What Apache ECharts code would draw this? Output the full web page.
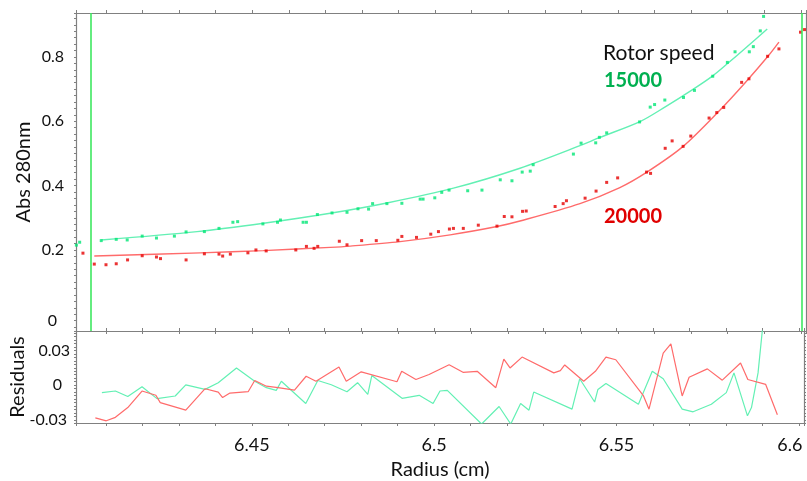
<!DOCTYPE html>
<html>
<head>
<meta charset="utf-8">
<script src="https://cdn.jsdelivr.net/npm/echarts@6/dist/echarts.min.js"></script>
<style>
  html, body { margin: 0; padding: 0; background: #fff; }
  #chart { width: 807px; height: 481px; }
</style>
</head>
<body>
<div id="chart"></div>
<script>
// Absorbance scans at 280 nm for two rotor speeds, with fitted curves and residuals.

const radiusGreen = [6.4019, 6.4028, 6.4087, 6.4128, 6.4158, 6.4199, 6.4238, 6.4287, 6.4319, 6.4369,
  6.4409, 6.4447, 6.4460, 6.4529, 6.4569, 6.4577, 6.4639, 6.4648, 6.4678, 6.4718,
  6.4759, 6.4789, 6.4818, 6.4829, 6.4868, 6.4909, 6.4959, 6.4967, 6.4999, 6.5018,
  6.5038, 6.5089, 6.5128, 6.5178, 6.5210, 6.5238, 6.5260, 6.5268, 6.5378, 6.5399,
  6.5439, 6.5449, 6.5469, 6.5559, 6.5588, 6.5600, 6.5628, 6.5679, 6.5709, 6.5759,
  6.5799, 6.5820, 6.5859, 6.5870, 6.5889, 6.5898];
const absGreen = [0.215, 0.224, 0.229, 0.233, 0.231, 0.243, 0.237, 0.243, 0.256, 0.257,
  0.267, 0.286, 0.288, 0.281, 0.286, 0.293, 0.286, 0.286, 0.310, 0.315,
  0.317, 0.328, 0.327, 0.344, 0.344, 0.345, 0.358, 0.358, 0.362, 0.379,
  0.386, 0.384, 0.386, 0.418, 0.415, 0.442, 0.445, 0.465, 0.498, 0.532,
  0.533, 0.550, 0.564, 0.598, 0.644, 0.652, 0.666, 0.674, 0.696, 0.740,
  0.783, 0.816, 0.816, 0.832, 0.881, 0.926];

const radiusRed = [6.4037, 6.4068, 6.4100, 6.4128, 6.4159, 6.4199, 6.4238, 6.4249, 6.4319, 6.4369,
  6.4409, 6.4419, 6.4440, 6.4488, 6.4510, 6.4538, 6.4619, 6.4648, 6.4669, 6.4679,
  6.4738, 6.4759, 6.4799, 6.4839, 6.4898, 6.4909, 6.4949, 6.4988, 6.5009, 6.5039,
  6.5050, 6.5077, 6.5118, 6.5169, 6.5189, 6.5210, 6.5239, 6.5249, 6.5328, 6.5350,
  6.5359, 6.5410, 6.5440, 6.5469, 6.5499, 6.5578, 6.5589, 6.5629, 6.5648, 6.5678,
  6.5699, 6.5749, 6.5770, 6.5789, 6.5838, 6.5858, 6.5909, 6.5940, 6.5999, 6.6010];
const absRed = [0.190, 0.156, 0.154, 0.157, 0.169, 0.182, 0.178, 0.173, 0.169, 0.188,
  0.187, 0.181, 0.187, 0.191, 0.200, 0.197, 0.200, 0.211, 0.205, 0.211,
  0.227, 0.216, 0.229, 0.229, 0.230, 0.242, 0.239, 0.249, 0.257, 0.265,
  0.267, 0.267, 0.277, 0.274, 0.304, 0.303, 0.320, 0.321, 0.335, 0.344,
  0.353, 0.361, 0.383, 0.410, 0.424, 0.442, 0.438, 0.516, 0.539, 0.522,
  0.554, 0.610, 0.627, 0.643, 0.721, 0.732, 0.802, 0.825, 0.877, 0.885];

const fitRadiusGreen = [6.4087, 6.4349, 6.4531, 6.4713, 6.4868, 6.5050, 6.5232, 6.5396,
  6.5449, 6.5560, 6.5628, 6.5706, 6.5760, 6.5797, 6.5852, 6.5908];
const fitAbsGreen = [0.231, 0.257, 0.283, 0.314, 0.346, 0.392, 0.454, 0.524,
  0.549, 0.599, 0.644, 0.700, 0.742, 0.777, 0.831, 0.887];

const fitRadiusRed = [6.4068, 6.4358, 6.4530, 6.4713, 6.4768, 6.4904, 6.5041, 6.5169, 6.5232,
  6.5396, 6.5505, 6.5579, 6.5678, 6.5779, 6.5847, 6.5910, 6.5940];
const fitAbsRed = [0.181, 0.191, 0.198, 0.208, 0.212, 0.226, 0.247, 0.273, 0.290,
  0.344, 0.394, 0.442, 0.522, 0.635, 0.719, 0.802, 0.846];

const residRadiusGreen = [6.4089, 6.4126, 6.4160, 6.4199, 6.4240, 6.4290, 6.4319, 6.4372, 6.4408, 6.4458,
  6.4508, 6.4540, 6.4567, 6.4581, 6.4648, 6.4681, 6.4718, 6.4761, 6.4790, 6.4818,
  6.4829, 6.4912, 6.4959, 6.4997, 6.5016, 6.5036, 6.5130, 6.5178, 6.5210, 6.5237,
  6.5260, 6.5273, 6.5378, 6.5399, 6.5440, 6.5449, 6.5471, 6.5560, 6.5598, 6.5628,
  6.5680, 6.5710, 6.5760, 6.5801, 6.5822, 6.5859, 6.5870, 6.5888, 6.5904];
const residGreen = [-0.0065, -0.0051, -0.0099, -0.0014, -0.0117, -0.0094, 0.0003, -0.0037, 0.0021, 0.0149,
  0.0034, -0.0022, -0.0045, 0.0034, -0.0159, 0.0040, 0.0003, -0.0057, 0.0021, -0.0080,
  0.0083, -0.0114, -0.0088, -0.0159, -0.0051, -0.0045, -0.0337, -0.0185, -0.0337, -0.0159,
  -0.0217, -0.0060, -0.0208, 0.0055, -0.0146, -0.0037, 0.0015, -0.0165, 0.0120, 0.0055,
  -0.0208, -0.0231, -0.0165, -0.0065, 0.0106, -0.0266, -0.0194, 0.0106, 0.0606];

const residRadiusRed = [6.4071, 6.4101, 6.4126, 6.4160, 6.4199, 6.4237, 6.4249, 6.4319, 6.4372, 6.4408,
  6.4420, 6.4440, 6.4490, 6.4508, 6.4540, 6.4572, 6.4617, 6.4649, 6.4676, 6.4739,
  6.4759, 6.4800, 6.4898, 6.4911, 6.4950, 6.4986, 6.5041, 6.5079, 6.5118, 6.5169,
  6.5191, 6.5208, 6.5241, 6.5328, 6.5346, 6.5358, 6.5410, 6.5442, 6.5471, 6.5498,
  6.5574, 6.5589, 6.5628, 6.5649, 6.5680, 6.5699, 6.5749, 6.5790, 6.5840, 6.5860,
  6.5909, 6.5941];
const residRed = [-0.0283, -0.0309, -0.0279, -0.0194, -0.0051, -0.0088, -0.0151, -0.0217, -0.0031, -0.0060,
  -0.0108, -0.0069, -0.0057, 0.0040, -0.0009, -0.0022, -0.0043, 0.0077, 0.0034, 0.0158,
  0.0034, 0.0115, 0.0029, 0.0120, 0.0049, 0.0092, 0.0177, 0.0111, 0.0120, -0.0022,
  0.0226, 0.0149, 0.0243, 0.0106, 0.0126, 0.0175, 0.0034, 0.0120, 0.0243, 0.0220,
  -0.0094, -0.0208, 0.0278, 0.0357, -0.0094, 0.0069, 0.0141, 0.0043, 0.0192, 0.0049,
  0.0006, -0.0257];

// meniscus and cell-bottom positions (cm)
const boundaryRadius = [6.4057, 6.6002];

const radiusTickLabels = [6.45, 6.5, 6.55, 6.6];
const absTickLabels = [0, 0.2, 0.4, 0.6, 0.8];
const residTickLabels = [-0.03, 0, 0.03];
const speedNames = ['15000', '20000'];

const FONT = 'Lato, "Open Sans", "Noto Sans", sans-serif';
const AXIS_GRAY = '#808080';
const GREEN_PT = '#00e676';
const RED_PT = '#e60000';
const GREEN_LINE = '#63f0b4';
const RED_LINE = '#ff6b6b';
const BOUNDARY = '#3ee860';

const zip = (xs, ys) => xs.map((x, i) => [x, ys[i]]);
const near = (list, v) => list.find(t => Math.abs(t - v) < 1e-6);

const X_MIN = 6.4018, X_MAX = 6.6014;

function xAxisCfg(grid, pos, withLabels) {
  return {
    type: 'value', gridIndex: grid, position: pos,
    min: X_MIN, max: X_MAX, minInterval: 0.01, maxInterval: 0.01,
    axisLine: { show: true, onZero: false, lineStyle: { color: AXIS_GRAY, width: 1.2 } },
    axisTick: { show: true, length: 3, lineStyle: { color: AXIS_GRAY } },
    splitLine: { show: false },
    axisLabel: withLabels ? {
      show: true, margin: 13, fontSize: 18, fontFamily: FONT, color: '#111',
      showMinLabel: true, showMaxLabel: true,
      formatter: v => {
        const t = near(radiusTickLabels, v);
        if (t === undefined) return '';
        return t === 6.6 ? '{e|6.6}' : String(t);
      },
      rich: { e: { fontSize: 18, fontFamily: FONT, color: '#111', padding: [0, 18, 0, 0] } }
    } : { show: false },
    name: withLabels ? 'Radius (cm)' : '',
    nameLocation: 'middle', nameGap: 37, nameMoveOverlap: false,
    nameTextStyle: { fontSize: 20, fontFamily: FONT, color: '#111' }
  };
}

function yAxisCfg(grid, pos, min, max, step, labels, name, gap, richStyles) {
  const withLabels = !!labels;
  return {
    type: 'value', gridIndex: grid, position: pos,
    min: min, max: max, minInterval: step, maxInterval: step,
    axisLine: { show: true, onZero: false, lineStyle: { color: AXIS_GRAY, width: 1.2 } },
    axisTick: { show: true, length: 2, lineStyle: { color: AXIS_GRAY } },
    splitLine: { show: false },
    axisLabel: withLabels ? {
      show: true, margin: labels.margin, fontSize: 16, fontFamily: FONT, color: '#111',
      formatter: v => {
        const t = near(labels.values, v);
        if (t === undefined) return '';
        if (labels.rich && labels.rich[String(t)]) return '{' + labels.rich[String(t)] + '|' + t + '}';
        return String(t);
      },
      rich: richStyles
    } : { show: false },
    name: name || '', nameLocation: 'middle', nameGap: gap || 0, nameMoveOverlap: false,
    nameTextStyle: { fontSize: 20, fontFamily: FONT, color: '#111' }
  };
}

const chart = echarts.init(document.getElementById('chart'), null, { renderer: 'canvas' });

chart.setOption({
  animation: false,
  backgroundColor: '#fff',
  textStyle: { fontFamily: FONT },
  grid: [
    { left: 76, right: 1, top: 13, height: 318 },
    { left: 76, right: 1, top: 331, height: 93 }
  ],
  xAxis: [
    xAxisCfg(0, 'bottom', false),
    xAxisCfg(0, 'top', false),
    xAxisCfg(1, 'bottom', true),
    xAxisCfg(1, 'top', false)
  ],
  yAxis: [
    yAxisCfg(0, 'left', -0.052, 0.9366, 0.02,
      { values: absTickLabels, margin: 12, rich: { '0': 'z' } }, 'Abs 280nm', 42,
      { z: { fontSize: 16, fontFamily: FONT, color: '#111', padding: [14, 7, 0, 0] } }),
    yAxisCfg(0, 'right', -0.052, 0.9366, 0.02, null),
    yAxisCfg(1, 'left', -0.0328, 0.0469, 0.003,
      { values: residTickLabels, margin: 6, rich: { '0': 'z', '-0.03': 'm' } }, 'Residuals', 48,
      { z: { fontSize: 16, fontFamily: FONT, color: '#111', padding: [0, 8, 0, 0] },
        m: { fontSize: 16, fontFamily: FONT, color: '#111', padding: [0, 3, 0, 0] } }),
    yAxisCfg(1, 'right', -0.0328, 0.0469, 0.003, null)
  ],
  graphic: [
    { type: 'text', left: 603, top: 43, style: { text: 'Rotor speed', font: '21px ' + FONT, fill: '#111' } },
    { type: 'text', left: 604, top: 71, style: { text: speedNames[0], font: 'bold 20px ' + FONT, fill: '#00b050' } },
    { type: 'text', left: 604, top: 207, style: { text: speedNames[1], font: 'bold 20px ' + FONT, fill: '#e00000' } }
  ],
  series: [
    {
      name: speedNames[0] + ' fit', type: 'line', xAxisIndex: 0, yAxisIndex: 0,
      data: zip(fitRadiusGreen, fitAbsGreen), showSymbol: false, smooth: 0.3,
      lineStyle: { color: GREEN_LINE, width: 1.4 }, z: 2,
      markLine: {
        silent: true, symbol: ['none', 'none'], label: { show: false }, precision: 6,
        lineStyle: { color: BOUNDARY, width: 1.6, type: 'solid' },
        data: boundaryRadius.map(r => ({ xAxis: r }))
      }
    },
    {
      name: speedNames[1] + ' fit', type: 'line', xAxisIndex: 0, yAxisIndex: 0,
      data: zip(fitRadiusRed, fitAbsRed), showSymbol: false, smooth: 0.3,
      lineStyle: { color: RED_LINE, width: 1.4 }, z: 2
    },
    {
      name: speedNames[0], type: 'scatter', xAxisIndex: 0, yAxisIndex: 0,
      data: zip(radiusGreen, absGreen), symbol: 'rect', symbolSize: 3,
      itemStyle: { color: GREEN_PT }, z: 3
    },
    {
      name: speedNames[1], type: 'scatter', xAxisIndex: 0, yAxisIndex: 0,
      data: zip(radiusRed, absRed), symbol: 'rect', symbolSize: 3,
      itemStyle: { color: RED_PT }, z: 3
    },
    {
      name: speedNames[0] + ' residuals', type: 'line', xAxisIndex: 2, yAxisIndex: 2,
      data: zip(residRadiusGreen, residGreen), showSymbol: false,
      lineStyle: { color: GREEN_LINE, width: 1.2 }, z: 2
    },
    {
      name: speedNames[1] + ' residuals', type: 'line', xAxisIndex: 2, yAxisIndex: 2,
      data: zip(residRadiusRed, residRed), showSymbol: false,
      lineStyle: { color: RED_LINE, width: 1.2 }, z: 2
    }
  ]
});
</script>
</body>
</html>
